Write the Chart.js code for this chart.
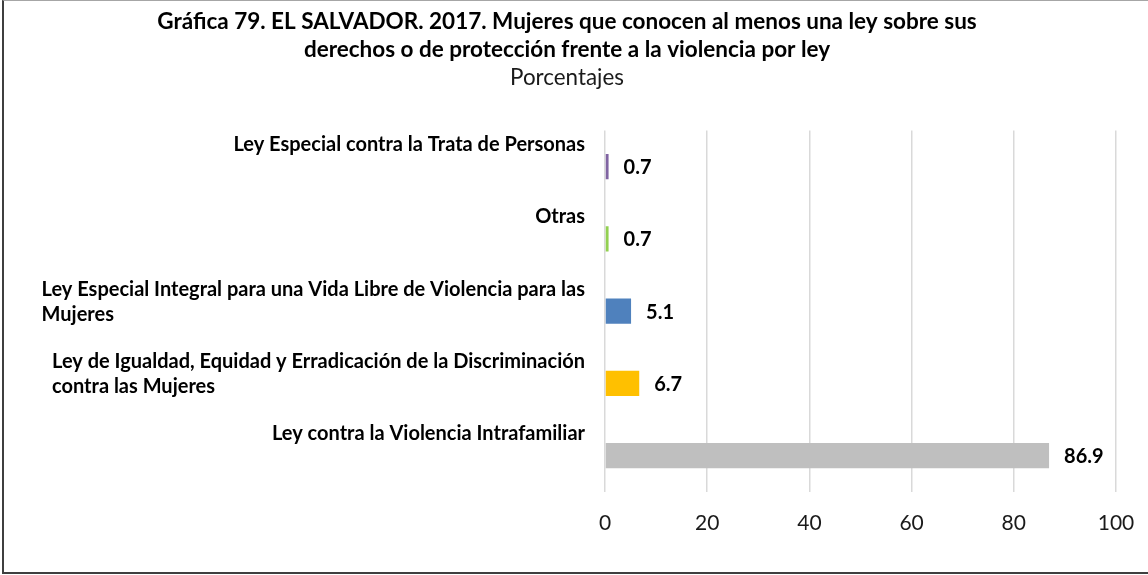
<!DOCTYPE html>
<html>
<head>
<meta charset="utf-8">
<script src="https://cdn.jsdelivr.net/npm/chart.js@4/dist/chart.umd.min.js"></script>
<style>
  html, body { margin: 0; padding: 0; background: #fff; }
  #wrap { position: relative; width: 1148px; height: 575px; overflow: hidden; }
  #frame {
    position: absolute; left: 2px; top: 0; width: 1160px; height: 571px;
    border-left: 2px solid #3f3f3f; border-bottom: 2px solid #3f3f3f; border-top: 1px solid #a6a6a6;
    pointer-events: none;
  }
  canvas { display: block; }
</style>
</head>
<body>
<div id="wrap">
  <canvas id="chart" width="1148" height="575"></canvas>
  <div id="frame"></div>
</div>
<script>
// Categories, top to bottom; each entry lists its text lines
const categories = [
  ["Ley Especial contra la Trata de Personas"],
  ["Otras"],
  ["Ley Especial Integral para una Vida Libre de Violencia para las", "Mujeres"],
  ["Ley de Igualdad, Equidad y Erradicación de la Discriminación", "contra las Mujeres"],
  ["Ley contra la Violencia Intrafamiliar"]
];
const values = [0.7, 0.7, 5.1, 6.7, 86.9];
const barColors = ["#8064A2", "#92D050", "#4F81BD", "#FFC000", "#BFBFBF"];
const xTicks = [0, 20, 40, 60, 80, 100];

const titleLines = [
  "Gráfica 79. EL SALVADOR. 2017. Mujeres que conocen al menos una ley sobre sus",
  "derechos o de protección frente a la violencia por ley"
];
const subtitleText = "Porcentajes";

const FONT = "Lato, 'Open Sans', sans-serif";

// Category names drawn above each bar, block right-aligned, lines left-aligned
const categoryLabels = {
  id: "categoryLabels",
  afterDraw(chart) {
    const ctx = chart.ctx;
    const y = chart.scales.y;
    const right = chart.chartArea.left - 20;
    ctx.save();
    ctx.font = "bold 20px " + FONT;
    ctx.fillStyle = "#000";
    ctx.textBaseline = "middle";
    ctx.textAlign = "left";
    categories.forEach((lines, i) => {
      const center = y.getPixelForTick(i);
      const w = Math.max(...lines.map(l => ctx.measureText(l).width));
      lines.forEach((line, k) => {
        ctx.fillText(line, right - w, center - 22 + k * 25);
      });
    });
    ctx.restore();
  }
};

// Value labels right of each bar end
const valueLabels = {
  id: "valueLabels",
  afterDatasetsDraw(chart) {
    const ctx = chart.ctx;
    const meta = chart.getDatasetMeta(0);
    ctx.save();
    ctx.font = "bold 20px " + FONT;
    ctx.fillStyle = "#000";
    ctx.textBaseline = "middle";
    ctx.textAlign = "left";
    meta.data.forEach((bar, i) => {
      ctx.fillText(values[i].toFixed(1), bar.x + 15, bar.y + 1);
    });
    ctx.restore();
  }
};

new Chart(document.getElementById("chart"), {
  type: "bar",
  data: {
    labels: categories.map(c => c.join(" ")),
    datasets: [{
      data: values,
      backgroundColor: barColors,
      borderWidth: 0,
      barPercentage: 0.35,
      categoryPercentage: 1
    }]
  },
  options: {
    indexAxis: "y",
    responsive: false,
    animation: false,
    events: [],
    layout: { padding: { left: 0, right: 14, top: 0, bottom: 20 } },
    scales: {
      x: {
        type: "linear",
        min: 0,
        max: 100,
        afterBuildTicks(scale) { scale.ticks = xTicks.map(v => ({ value: v })); },
        afterFit(scale) { scale.paddingLeft = 0; scale.paddingRight = 0; },
        grid: { color: "#d9d9d9", lineWidth: 1.5, drawTicks: false },
        border: { display: false },
        ticks: {
          padding: 19,
          color: "#1a1a1a",
          font: { family: FONT, size: 21 }
        }
      },
      y: {
        type: "category",
        position: "left",
        grid: { display: false },
        border: { display: false },
        ticks: { display: false },
        afterFit(scale) { scale.width = 605; }
      },
      yRight: {
        type: "category",
        position: "right",
        grid: { display: false },
        border: { display: false },
        ticks: { display: false },
        afterFit(scale) { scale.width = 18; }
      }
    },
    plugins: {
      legend: { display: false },
      tooltip: { enabled: false },
      title: {
        display: true,
        text: titleLines,
        color: "#000",
        font: { family: FONT, size: 22.5, weight: "bold", lineHeight: 1.245 },
        padding: { top: 8, bottom: 0 }
      },
      subtitle: {
        display: true,
        text: subtitleText,
        color: "#1a1a1a",
        font: { family: FONT, size: 22.4, weight: "normal", lineHeight: 1.25 },
        padding: { top: 0, bottom: 38.5 }
      }
    }
  },
  plugins: [categoryLabels, valueLabels]
});
</script>
</body>
</html>
